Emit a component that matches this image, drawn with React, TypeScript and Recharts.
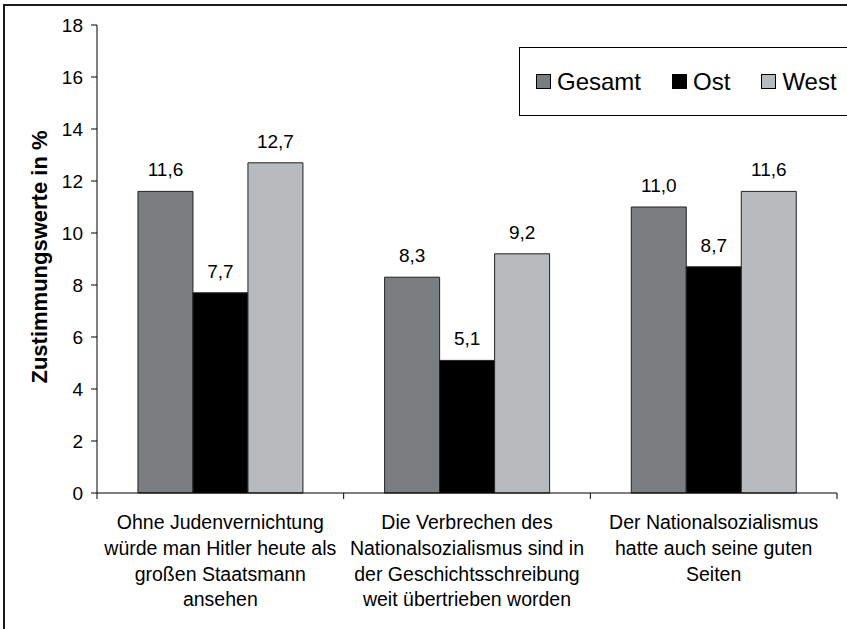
import React from 'react';
import { BarChart, Bar, XAxis, YAxis, LabelList, Legend } from 'recharts';

const categories = [
  'Ohne Judenvernichtung würde man Hitler heute als großen Staatsmann ansehen',
  'Die Verbrechen des Nationalsozialismus sind in der Geschichtsschreibung weit übertrieben worden',
  'Der Nationalsozialismus hatte auch seine guten Seiten',
];
const categoryLines = [
  ['Ohne Judenvernichtung', 'würde man Hitler heute als', 'großen Staatsmann', 'ansehen'],
  ['Die Verbrechen des', 'Nationalsozialismus sind in', 'der Geschichtsschreibung', 'weit übertrieben worden'],
  ['Der Nationalsozialismus', 'hatte auch seine guten', 'Seiten'],
];
const gesamt = [11.6, 8.3, 11.0];
const ost = [7.7, 5.1, 8.7];
const west = [12.7, 9.2, 11.6];
const yTicks = [0, 2, 4, 6, 8, 10, 12, 14, 16, 18];
const seriesNames = ['Gesamt', 'Ost', 'West'];
const seriesColors = ['#7a7e81', '#000000', '#b7bbbe'];
const yTitle = 'Zustimmungswerte in %';

const data = categories.map((c, i) => ({ name: c, Gesamt: gesamt[i], Ost: ost[i], West: west[i] }));

const FONT = '"Liberation Sans", Arial, Helvetica, sans-serif';

const fmt = (v: any) => (typeof v === 'number' ? v.toFixed(1).replace('.', ',') : v);

const CategoryTick = (props: any) => {
  const { x, y, payload } = props;
  const idx = payload && typeof payload.index === 'number' ? payload.index : props.index;
  const half = payload && typeof payload.offset === 'number' && payload.offset > 0 ? payload.offset : 740 / 6;
  const lines = categoryLines[idx] || [];
  return (
    <g>
      <line x1={x - half} x2={x - half} y1={y} y2={y + 6} stroke="#000" strokeWidth={1} />
      {idx === categories.length - 1 && (
        <line x1={x + half} x2={x + half} y1={y} y2={y + 6} stroke="#000" strokeWidth={1} />
      )}
      <text x={x} y={y} textAnchor="middle" fontSize={19.5} fill="#000" fontFamily={FONT}>
        {lines.map((l, k) => (
          <tspan key={k} x={x} y={y + 36 + k * 25.8}>
            {l}
          </tspan>
        ))}
      </text>
    </g>
  );
};

const LegendBox = () => (
  <div
    style={{
      boxSizing: 'border-box',
      width: 360,
      height: 69,
      border: '1px solid #000',
      background: '#fff',
      display: 'flex',
      alignItems: 'center',
      paddingLeft: 16,
      fontSize: 24,
      lineHeight: '24px',
      color: '#000',
      fontFamily: FONT,
    }}
  >
    {seriesNames.map((n, i) => (
      <div key={n} style={{ display: 'flex', alignItems: 'center', marginRight: 31 }}>
        <span
          style={{
            width: 15,
            height: 15,
            boxSizing: 'border-box',
            border: '1px solid #000',
            background: seriesColors[i],
            marginRight: 6,
            display: 'inline-block',
          }}
        />
        <span>{n}</span>
      </div>
    ))}
  </div>
);

export default function App() {
  return (
    <div
      style={{
        position: 'absolute',
        left: 0,
        top: 0,
        width: 847,
        height: 629,
        overflow: 'hidden',
        background: '#fff',
        fontFamily: FONT,
      }}
    >
      <div
        style={{
          position: 'absolute',
          left: 3,
          top: 4,
          width: 1000,
          height: 1000,
          border: '2px solid #1a1a1a',
          boxSizing: 'border-box',
        }}
      />
      <div style={{ position: 'absolute', left: 0, top: 0 }}>
        <BarChart
          width={847}
          height={629}
          data={data}
          margin={{ top: 25, right: 10, left: 0, bottom: 0 }}
          barCategoryGap="16.6%"
          barGap={0}
        >
          <XAxis
            dataKey="name"
            height={136}
            interval={0}
            tickSize={0}
            tickMargin={0}
            tickLine={false}
            axisLine={{ stroke: '#000', strokeWidth: 1 }}
            tick={<CategoryTick />}
          />
          <XAxis
            xAxisId="top"
            dataKey="name"
            orientation="top"
            height={0}
            tick={false}
            tickLine={false}
            axisLine={{ stroke: '#8a8a8a', strokeWidth: 1 }}
          />
          <YAxis
            domain={[0, 18]}
            ticks={yTicks}
            width={97}
            interval={0}
            tickSize={6}
            tickMargin={8}
            axisLine={{ stroke: '#000', strokeWidth: 1 }}
            tickLine={{ stroke: '#000', strokeWidth: 1 }}
            tick={{ fontSize: 19, fill: '#000', fontFamily: FONT }}
            label={{
              value: yTitle,
              angle: -90,
              position: 'center',
              dx: -9,
              dy: -2,
              style: { fontWeight: 'bold', fontSize: 22, fill: '#000', fontFamily: FONT },
            }}
          />
          <YAxis
            yAxisId="right"
            orientation="right"
            width={0}
            domain={[0, 18]}
            tick={false}
            tickLine={false}
            axisLine={{ stroke: '#8a8a8a', strokeWidth: 1 }}
          />
          <Legend
            layout="vertical"
            align="center"
            verticalAlign="middle"
            content={<LegendBox />}
            wrapperStyle={{ left: 519, top: 47, width: 360, height: 69 }}
          />
          {seriesNames.map((s, i) => (
            <Bar
              key={s}
              dataKey={s}
              name={s}
              fill={seriesColors[i]}
              stroke="#222"
              strokeWidth={1}
              isAnimationActive={false}
            >
              <LabelList
                dataKey={s}
                position="top"
                offset={15}
                formatter={fmt}
                fill="#000"
                fontSize={19}
                fontFamily={FONT}
              />
            </Bar>
          ))}
        </BarChart>
      </div>
    </div>
  );
}
